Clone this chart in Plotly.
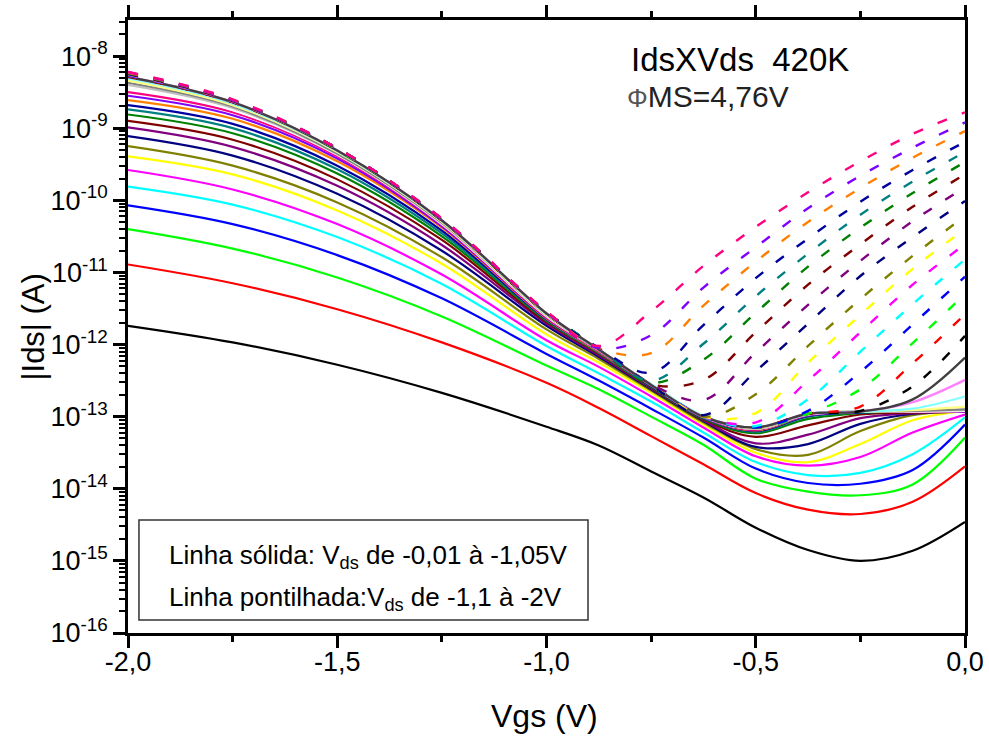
import plotly.graph_objects as go

# Gate voltage sweep (V)
vgs = [-2.0, -1.75, -1.5, -1.25, -1.0, -0.875, -0.75, -0.625, -0.5, -0.375, -0.25, -0.125, 0.0]

# log10(|Ids| / A) for each drain bias, solid family (Vds = -0.01 ... -1.05 V)
ids_vds_0_01 = [-11.74, -11.97, -12.28, -12.67, -13.14, -13.40, -13.76, -14.12, -14.54, -14.85, -15.00, -14.86, -14.46]
ids_vds_0_05 = [-10.89, -11.15, -11.51, -11.97, -12.53, -12.88, -13.27, -13.66, -14.06, -14.29, -14.35, -14.18, -13.69]
ids_vds_0_10 = [-10.40, -10.67, -11.07, -11.61, -12.29, -12.62, -13.00, -13.39, -13.86, -14.04, -14.09, -13.94, -13.29]
ids_vds_0_15 = [-10.07, -10.33, -10.76, -11.36, -12.13, -12.50, -12.89, -13.29, -13.72, -13.92, -13.93, -13.74, -13.11]
ids_vds_0_20 = [-9.81, -10.06, -10.51, -11.16, -12.02, -12.40, -12.79, -13.22, -13.63, -13.81, -13.78, -13.52, -13.01]
ids_vds_0_25 = [-9.58, -9.85, -10.33, -11.03, -11.94, -12.31, -12.72, -13.15, -13.55, -13.68, -13.56, -13.22, -12.97]
ids_vds_0_30 = [-9.39, -9.64, -10.14, -10.88, -11.86, -12.25, -12.67, -13.11, -13.50, -13.63, -13.38, -13.05, -12.92]
ids_vds_0_35 = [-9.25, -9.52, -10.03, -10.79, -11.79, -12.20, -12.64, -13.08, -13.45, -13.53, -13.20, -12.98, -12.93]
ids_vds_0_40 = [-9.11, -9.38, -9.91, -10.70, -11.74, -12.17, -12.62, -13.06, -13.42, -13.38, -13.10, -12.96, -12.93]
ids_vds_0_45 = [-8.99, -9.26, -9.80, -10.62, -11.71, -12.15, -12.61, -13.05, -13.37, -13.25, -13.02, -12.95, -12.93]
ids_vds_0_50 = [-8.90, -9.16, -9.71, -10.55, -11.69, -12.13, -12.60, -13.04, -13.28, -13.12, -12.97, -12.94, -12.93]
ids_vds_0_55 = [-8.81, -9.07, -9.63, -10.50, -11.67, -12.12, -12.59, -13.03, -13.23, -13.03, -12.95, -12.93, -12.93]
ids_vds_0_60 = [-8.74, -9.00, -9.57, -10.46, -11.66, -12.11, -12.58, -13.02, -13.21, -13.00, -12.94, -12.93, -12.93]
ids_vds_0_65 = [-8.68, -8.94, -9.52, -10.42, -11.65, -12.10, -12.58, -13.02, -13.20, -12.99, -12.94, -12.93, -12.93]
ids_vds_0_70 = [-8.61, -8.87, -9.46, -10.38, -11.64, -12.10, -12.57, -13.01, -13.19, -12.98, -12.93, -12.93, -12.93]
ids_vds_0_75 = [-8.55, -8.82, -9.42, -10.36, -11.63, -12.09, -12.57, -13.01, -13.18, -12.98, -12.93, -12.93, -12.93]
ids_vds_0_80 = [-8.50, -8.78, -9.39, -10.34, -11.62, -12.09, -12.56, -13.00, -13.18, -12.97, -12.93, -12.93, -12.92]
ids_vds_0_85 = [-8.45, -8.75, -9.37, -10.33, -11.61, -12.08, -12.56, -13.00, -13.17, -12.97, -12.93, -12.93, -12.92]
ids_vds_0_90 = [-8.40, -8.72, -9.36, -10.32, -11.60, -12.08, -12.56, -13.00, -13.17, -12.97, -12.93, -12.92, -12.91]
ids_vds_0_95 = [-8.37, -8.70, -9.35, -10.31, -11.59, -12.08, -12.56, -13.00, -13.16, -12.96, -12.93, -12.92, -12.90]
ids_vds_1_00 = [-8.34, -8.68, -9.33, -10.30, -11.59, -12.07, -12.55, -12.99, -13.16, -12.96, -12.93, -12.91, -12.86]
ids_vds_1_05 = [-8.31, -8.66, -9.32, -10.29, -11.58, -12.07, -12.55, -12.99, -13.15, -12.96, -12.93, -12.89, -12.72]

# dashed family (Vds = -1.1 ... -2.0 V)
ids_vds_1_10 = [-8.29, -8.64, -9.31, -10.28, -11.57, -12.07, -12.56, -13.00, -13.15, -12.96, -12.93, -12.80, -12.49]
ids_vds_1_15 = [-8.29, -8.64, -9.31, -10.28, -11.57, -12.07, -12.56, -13.00, -13.15, -12.96, -12.93, -12.76, -12.18]
ids_vds_1_20 = [-8.28, -8.64, -9.30, -10.28, -11.57, -12.06, -12.56, -13.00, -13.15, -12.96, -12.92, -12.58, -11.88]
ids_vds_1_25 = [-8.28, -8.64, -9.30, -10.28, -11.57, -12.06, -12.56, -13.00, -13.15, -12.96, -12.86, -12.26, -11.58]
ids_vds_1_30 = [-8.27, -8.63, -9.30, -10.27, -11.56, -12.06, -12.56, -13.00, -13.15, -12.96, -12.62, -11.98, -11.30]
ids_vds_1_35 = [-8.27, -8.63, -9.29, -10.27, -11.56, -12.06, -12.56, -13.00, -13.15, -12.92, -12.38, -11.72, -11.06]
ids_vds_1_40 = [-8.26, -8.63, -9.29, -10.27, -11.56, -12.06, -12.56, -13.00, -13.13, -12.76, -12.10, -11.44, -10.82]
ids_vds_1_45 = [-8.26, -8.63, -9.29, -10.27, -11.56, -12.06, -12.56, -13.00, -13.08, -12.50, -11.83, -11.17, -10.61]
ids_vds_1_50 = [-8.25, -8.62, -9.29, -10.27, -11.56, -12.06, -12.56, -13.00, -12.95, -12.25, -11.59, -10.95, -10.40]
ids_vds_1_55 = [-8.25, -8.62, -9.29, -10.27, -11.56, -12.06, -12.56, -13.00, -12.69, -12.02, -11.37, -10.77, -10.22]
ids_vds_1_60 = [-8.25, -8.62, -9.29, -10.27, -11.55, -12.06, -12.56, -12.98, -12.37, -11.71, -11.05, -10.51, -10.01]
ids_vds_1_65 = [-8.24, -8.62, -9.28, -10.26, -11.55, -12.06, -12.55, -12.77, -12.11, -11.45, -10.84, -10.29, -9.82]
ids_vds_1_70 = [-8.24, -8.62, -9.28, -10.26, -11.55, -12.06, -12.55, -12.49, -11.83, -11.17, -10.61, -10.09, -9.64]
ids_vds_1_75 = [-8.24, -8.61, -9.28, -10.26, -11.55, -12.05, -12.53, -12.21, -11.56, -10.92, -10.38, -9.90, -9.47]
ids_vds_1_80 = [-8.23, -8.61, -9.28, -10.26, -11.55, -12.05, -12.50, -11.99, -11.33, -10.74, -10.20, -9.74, -9.33]
ids_vds_1_85 = [-8.23, -8.61, -9.28, -10.26, -11.55, -12.05, -12.39, -11.73, -11.08, -10.53, -10.02, -9.58, -9.19]
ids_vds_1_90 = [-8.23, -8.61, -9.28, -10.26, -11.55, -12.05, -12.12, -11.46, -10.85, -10.30, -9.83, -9.41, -9.04]
ids_vds_1_95 = [-8.22, -8.61, -9.28, -10.26, -11.55, -12.05, -11.87, -11.21, -10.65, -10.11, -9.66, -9.27, -8.92]
ids_vds_2_00 = [-8.22, -8.60, -9.28, -10.25, -11.54, -12.02, -11.54, -10.91, -10.37, -9.89, -9.46, -9.08, -8.78]

solid_family = [
    ids_vds_0_01, ids_vds_0_05, ids_vds_0_10, ids_vds_0_15, ids_vds_0_20, ids_vds_0_25,
    ids_vds_0_30, ids_vds_0_35, ids_vds_0_40, ids_vds_0_45, ids_vds_0_50, ids_vds_0_55,
    ids_vds_0_60, ids_vds_0_65, ids_vds_0_70, ids_vds_0_75, ids_vds_0_80, ids_vds_0_85,
    ids_vds_0_90, ids_vds_0_95, ids_vds_1_00, ids_vds_1_05,
]
dashed_family = [
    ids_vds_1_10, ids_vds_1_15, ids_vds_1_20, ids_vds_1_25, ids_vds_1_30, ids_vds_1_35,
    ids_vds_1_40, ids_vds_1_45, ids_vds_1_50, ids_vds_1_55, ids_vds_1_60, ids_vds_1_65,
    ids_vds_1_70, ids_vds_1_75, ids_vds_1_80, ids_vds_1_85, ids_vds_1_90, ids_vds_1_95,
    ids_vds_2_00,
]

# Origin-style colour cycle
palette = ["#000000", "#FF0000", "#00FF00", "#0000FF", "#00FFFF", "#FF00FF", "#FFFF00",
           "#808000", "#000080", "#800080", "#800000", "#008000", "#008080", "#0000A0",
           "#FF8000", "#8000FF", "#FF0080", "#FFFFFF", "#C0C0C0", "#808080", "#FFFF80",
           "#80FFFF", "#FF80FF", "#404040"]

y_tick_exponents = list(range(-16, -7))
x_tick_values = [-2.0, -1.5, -1.0, -0.5, 0.0]
x_tick_text = ["-2,0", "-1,5", "-1,0", "-0,5", "0,0"]

FONT = "Liberation Sans, Arial, sans-serif"

fig = go.Figure()

curves = [(c, False) for c in solid_family] + [(c, True) for c in dashed_family]
for n, (log_ids, is_dashed) in enumerate(curves):
    # the first two high-bias curves are drawn continuous
    dash = "10px,16px" if (is_dashed and n >= 24) else "solid"
    fig.add_trace(go.Scatter(
        x=vgs,
        y=[10 ** v for v in log_ids],
        mode="lines",
        line=dict(color=palette[n % len(palette)], width=2.4 if is_dashed else 2.2,
                  dash=dash, shape="spline", smoothing=1.0),
        hoverinfo="skip",
        showlegend=False,
    ))

minor_y = [m * 10.0 ** e for e in range(-16, -7) for m in range(2, 10)]

fig.update_layout(
    width=989, height=737,
    margin=dict(l=128, r=24, t=20, b=104, autoexpand=False),
    paper_bgcolor="white", plot_bgcolor="white",
    font=dict(family=FONT, size=27, color="black"),
    xaxis=dict(
        range=[-2.0, 0.0],
        tickmode="array", tickvals=x_tick_values, ticktext=x_tick_text,
        ticks="outside", ticklen=12, tickwidth=2.5, tickcolor="black",
        minor=dict(tickmode="array", tickvals=[-1.75, -1.25, -0.75, -0.25],
                   ticks="outside", ticklen=6, tickwidth=2.5, tickcolor="black"),
        showline=True, linewidth=2.5, linecolor="black", mirror="ticks",
        showgrid=False, zeroline=False, automargin=False,
        tickfont=dict(size=27),
        ticklabelstandoff=-9,
    ),
    yaxis=dict(
        type="log", range=[-16, -7.5],
        tickmode="array",
        tickvals=[10.0 ** e for e in y_tick_exponents],
        ticktext=["10<sup>%d</sup>" % e for e in y_tick_exponents],
        ticks="outside", ticklen=12, tickwidth=2.5, tickcolor="black",
        minor=dict(tickmode="array", tickvals=minor_y,
                   ticks="outside", ticklen=6, tickwidth=1.5, tickcolor="black"),
        showline=True, linewidth=2.5, linecolor="black", mirror=True,
        showgrid=False, zeroline=False, automargin=False,
        tickfont=dict(size=27),
    ),
)

# axis titles
fig.add_annotation(text="Vgs (V)", xref="paper", yref="paper", x=0.498, y=-0.135,
                   showarrow=False, font=dict(size=32), xanchor="center", yanchor="middle")
fig.add_annotation(text="|Ids| (A)", xref="paper", yref="paper", x=-0.113, y=0.499,
                   showarrow=False, font=dict(size=31), textangle=-90,
                   xanchor="center", yanchor="middle")

# header text
fig.add_annotation(text="IdsXVds\u00a0 420K", xref="paper", yref="paper", x=0.598, y=0.936,
                   showarrow=False, font=dict(size=33), xanchor="left", yanchor="middle")
fig.add_annotation(text="<span style='color:#555555;font-size:26px'>\u03a6</span>MS=4,76V",
                   xref="paper", yref="paper", x=0.594, y=0.876,
                   showarrow=False, font=dict(size=30, color="#222222"),
                   xanchor="left", yanchor="middle")

# line-style key
fig.add_shape(type="rect", xref="paper", yref="paper",
              x0=0.0131, x1=0.5496, y0=0.0212, y1=0.1843,
              line=dict(color="#333333", width=1.5), fillcolor="white", layer="above")
fig.add_annotation(text="Linha sólida: V<sub>ds</sub> de -0,01 à -1,05V",
                   xref="paper", yref="paper", x=0.0466, y=0.124,
                   showarrow=False, font=dict(size=26), xanchor="left", yanchor="middle")
fig.add_annotation(text="Linha pontilhada:V<sub>ds</sub> de -1,1 à -2V",
                   xref="paper", yref="paper", x=0.0466, y=0.057,
                   showarrow=False, font=dict(size=26), xanchor="left", yanchor="middle")

fig.write_html("out.html")
